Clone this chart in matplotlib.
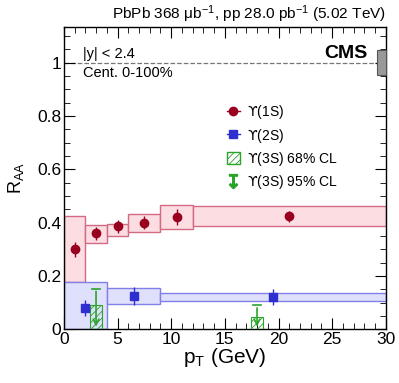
import numpy as np
import matplotlib
matplotlib.use("Agg")
import matplotlib.pyplot as plt
from matplotlib.patches import Rectangle, Patch
from matplotlib.lines import Line2D
from matplotlib.ticker import MultipleLocator, FormatStrFormatter

plt.rcParams['font.family'] = ['Liberation Sans', 'DejaVu Sans']
plt.rcParams['mathtext.fontset'] = 'custom'
plt.rcParams['mathtext.rm'] = 'DejaVu Sans'
plt.rcParams['hatch.linewidth'] = 0.6

# Upsilon(1S)
pt_1s = [1.0, 3.0, 5.0, 7.5, 10.5, 21.0]
lo_1s = [0, 2, 4, 6, 9, 12]
hi_1s = [2, 4, 6, 9, 12, 30]
raa_1s = [0.300, 0.360, 0.386, 0.400, 0.422, 0.424]
stat_1s = [0.027, 0.025, 0.025, 0.025, 0.03, 0.02]
syst_lo_1s = [0.178, 0.325, 0.352, 0.367, 0.375, 0.386]
syst_hi_1s = [0.424, 0.393, 0.396, 0.431, 0.465, 0.462]

# Upsilon(2S)
pt_2s = [2.0, 6.5, 19.5]
lo_2s = [0, 4, 9]
hi_2s = [4, 9, 30]
raa_2s = [0.081, 0.125, 0.122]
stat_2s = [0.03, 0.035, 0.03]
syst_lo_2s = [0.0, 0.096, 0.106]
syst_hi_2s = [0.178, 0.154, 0.137]

# Upsilon(3S) limits
pt_3s = [3.0, 18.0]
cl68_lo_x = [2.4, 17.4]
cl68_hi_x = [3.6, 18.6]
cl68_y = [0.091, 0.048]
cl95_y = [0.153, 0.091]

glob_lo = 0.956
glob_hi = 1.047

red = '#99001f'
red_fill = '#fcdde2'
red_edge = '#d46a82'
blue = '#2f2fd0'
blue_fill = '#dfe0fb'
blue_edge = '#8080e8'
green = '#2aa52a'

fig = plt.figure(figsize=(3.99, 3.83), dpi=100)
ax = fig.add_axes([0.160, 0.140, 0.807, 0.790])

for l, h, a, b in zip(lo_1s, hi_1s, syst_lo_1s, syst_hi_1s):
    ax.add_patch(Rectangle((l, a), h - l, b - a, facecolor=red_fill,
                           edgecolor=red_edge, lw=1.0, zorder=2))
for l, h, a, b in zip(lo_2s, hi_2s, syst_lo_2s, syst_hi_2s):
    ax.add_patch(Rectangle((l, a), h - l, b - a, facecolor=blue_fill,
                           edgecolor=blue_edge, lw=1.0, zorder=2))
for l, h, y in zip(cl68_lo_x, cl68_hi_x, cl68_y):
    ax.add_patch(Rectangle((l, 0), h - l, y, facecolor='none', hatch='/////',
                           edgecolor=green, lw=0.8, zorder=3))

ax.errorbar(pt_1s, raa_1s, yerr=stat_1s, fmt='o', color=red, ms=6,
            elinewidth=1.0, capsize=0, zorder=5)
ax.errorbar(pt_2s, raa_2s, yerr=stat_2s, fmt='s', color=blue, ms=6,
            elinewidth=1.0, capsize=0, zorder=5)
for x, y in zip(pt_3s, cl95_y):
    ax.plot([x - 0.35, x + 0.35], [y, y], color=green, lw=1.2, zorder=6)
    ax.annotate('', xy=(x, 0.0), xytext=(x, y),
                arrowprops=dict(arrowstyle='->', color=green, lw=1.2,
                                mutation_scale=10), zorder=6)

ax.axhline(1.0, color='#777777', ls='--', lw=0.9, zorder=1)
ax.add_patch(Rectangle((29.2, glob_lo), 0.8, glob_hi - glob_lo,
                       facecolor='#999999', edgecolor='#555555', lw=0.8,
                       clip_on=False, zorder=4))

ax.set_xlim(0, 30)
ax.set_ylim(0, 1.135)
ax.xaxis.set_major_locator(MultipleLocator(5))
ax.xaxis.set_minor_locator(MultipleLocator(1))
ax.yaxis.set_major_locator(MultipleLocator(0.2))
ax.yaxis.set_minor_locator(MultipleLocator(0.05))
ax.yaxis.set_major_formatter(FormatStrFormatter('%g'))
ax.tick_params(which='both', direction='in', top=True, right=True,
               labelsize=12.5, pad=2)
ax.tick_params(which='major', length=8)
ax.tick_params(which='minor', length=4)
for s in ax.spines.values():
    s.set_linewidth(1.0)

ax.set_xlabel(r'p$_{\mathregular{T}}$ (GeV)', fontsize=15, va='top')
ax.xaxis.set_label_coords(0.5, -0.055)
ax.set_ylabel(r'R$_{\mathregular{AA}}$', fontsize=13, va='center')
ax.yaxis.set_label_coords(-0.15, 0.5)

fig.text(0.968, 0.963,
         r'PbPb 368 $\mathregular{\mu b^{-1}}$, pp 28.0 $\mathregular{pb^{-1}}$ (5.02 TeV)',
         fontsize=11.1, ha='right', va='center')
ax.text(0.944, 0.913, 'CMS', transform=ax.transAxes, fontsize=14,
        fontweight='bold', ha='right', va='center')
ax.text(0.059, 0.911, '|y| < 2.4', transform=ax.transAxes, fontsize=10.5,
        ha='left', va='center')
ax.text(0.059, 0.848, 'Cent. 0-100%', transform=ax.transAxes, fontsize=10.5,
        ha='left', va='center')

handles = [
    Line2D([], [], marker='o', color=red, ls='-', lw=1, ms=6),
    Line2D([], [], marker='s', color=blue, ls='-', lw=1, ms=6),
    Patch(facecolor='none', edgecolor=green, hatch='/////'),
    Line2D([], [], marker=r'$\mathrm{↧}$', color=green, ls='none', ms=10),
]
labels = [r'$\mathrm{ϒ}$(1S)', r'$\mathrm{ϒ}$(2S)',
          r'$\mathrm{ϒ}$(3S) 68% CL', r'$\mathrm{ϒ}$(3S) 95% CL']
ax.legend(handles, labels, loc='upper left', bbox_to_anchor=(0.49, 0.765),
          frameon=False, fontsize=10, handlelength=0.9, handleheight=1.0,
          handletextpad=0.55, labelspacing=0.38, borderaxespad=0)

fig.savefig('out.png', dpi=100)
